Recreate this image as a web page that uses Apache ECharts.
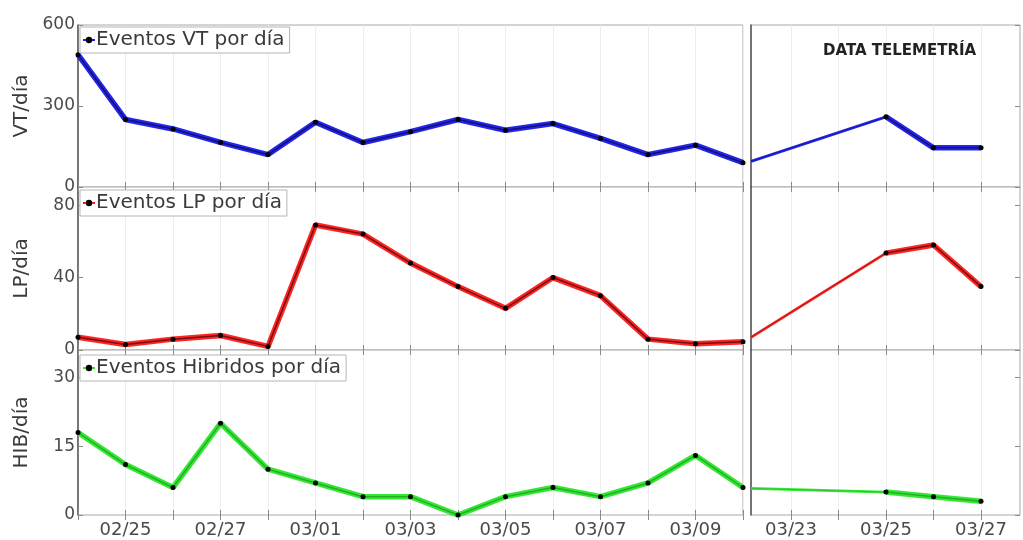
<!DOCTYPE html>
<html><head><meta charset="utf-8">
<script src="https://cdn.jsdelivr.net/npm/echarts@6/dist/echarts.min.js"></script>
<style>html,body{margin:0;padding:0;background:#fff}#c{width:1023px;height:540px}</style>
</head><body><div id="c"></div>
<script>
// ---- data ----
const leftDates = ['02/24','02/25','02/26','02/27','02/28','03/01','03/02','03/03','03/04','03/05','03/06','03/07','03/08','03/09','03/10'];
const rightDates = ['03/22','03/23','03/24','03/25','03/26','03/27'];
const leftLabelDates = ['02/25','02/27','03/01','03/03','03/05','03/07','03/09'];
const rightLabelDates = ['03/23','03/25','03/27'];

const vtLeft  = [490, 250, 215, 165, 120, 240, 165, 205, 250, 210, 235, 180, 120, 155, 90];
const lpLeft  = [7, 3, 6, 8, 2, 69, 64, 48, 35, 23, 40, 30, 6, 3.5, 4.5];
const hibLeft = [18, 11, 6, 20, 10, 7, 4, 4, 0, 4, 6, 4, 7, 13, 6];

const vtRight  = [null, null, null, 260, 145, 145];
const lpRight  = [null, null, null, 53.5, 58, 35];
const hibRight = [null, null, null, 5, 4, 3];

// value where the telemetry panel's connecting line starts (left edge)
const vtBreak = 95, lpBreak = 7, hibBreak = 5.8;

const vtTicks = [0, 300, 600], lpTicks = [0, 40, 80], hibTicks = [0, 15, 30];
const vtMax = 600, lpMax = 90, hibMax = 36;

// ---- layout ----
const FONT = 'DejaVu Sans';
const rowTop = [25, 187, 350], rowH = [162, 163, 165];
const leftX = 78, leftW = 665, rightX = 751, rightW = 269;
const rightMin = 0.16, rightMax = 5.82;

const panels = [
  {name: 'Eventos VT por día', yName: 'VT/día', L: vtLeft, R: vtRight, brk: vtBreak, ticks: vtTicks, max: vtMax, color: '#2424ea', core: 0.5},
  {name: 'Eventos LP por día', yName: 'LP/día', L: lpLeft, R: lpRight, brk: lpBreak, ticks: lpTicks, max: lpMax, color: '#ff2424', core: 0.55},
  {name: 'Eventos Hibridos por día', yName: 'HIB/día', L: hibLeft, R: hibRight, brk: hibBreak, ticks: hibTicks, max: hibMax, color: '#33e833', core: 0.25}
];

const grid = [], xAxis = [], yAxis = [], series = [], legend = [];
const tickStyle = {color: '#8a8a8a', width: 1};
const labelStyle = {color: '#4a4a4a', fontSize: 17, fontFamily: FONT};

panels.forEach((p, r) => {
  const last = r === 2;
  const gL = grid.length;
  grid.push({left: leftX, top: rowTop[r], width: leftW, height: rowH[r], show: true, borderColor: '#a8a8a8', borderWidth: 1, backgroundColor: '#fff'});
  const gR = grid.length;
  grid.push({left: rightX, top: rowTop[r], width: rightW, height: rowH[r], show: true, borderColor: '#a8a8a8', borderWidth: 1, backgroundColor: '#fff'});

  const xLb = xAxis.length;
  xAxis.push({type: 'value', gridIndex: gL, min: 0, max: leftDates.length - 1, interval: 1, position: 'bottom',
    axisLine: {show: false},
    axisTick: {show: true, inside: true, length: 5, lineStyle: tickStyle},
    axisLabel: {show: last, customValues: leftLabelDates.map(d => leftDates.indexOf(d)), formatter: v => leftDates[v], margin: 6, ...labelStyle, fontSize: 18},
    splitLine: {show: true, lineStyle: {color: '#ededed', width: 1}}});
  xAxis.push({type: 'value', gridIndex: gL, min: 0, max: leftDates.length - 1, interval: 1, position: 'top',
    axisLine: {show: false}, axisTick: {show: true, inside: true, length: 5, lineStyle: tickStyle},
    axisLabel: {show: false}, splitLine: {show: false}});
  const xRb = xAxis.length;
  const rTicks = rightDates.map((d, i) => i).filter(i => i >= rightMin && i <= rightMax);
  xAxis.push({type: 'value', gridIndex: gR, min: rightMin, max: rightMax, position: 'bottom',
    axisLine: {show: false},
    axisTick: {show: true, inside: true, length: 5, lineStyle: tickStyle, customValues: rTicks},
    axisLabel: {show: last, customValues: rightLabelDates.map(d => rightDates.indexOf(d)), formatter: v => rightDates[v], margin: 6, ...labelStyle, fontSize: 18},
    splitLine: {show: true, lineStyle: {color: '#ededed', width: 1}}});
  xAxis.push({type: 'value', gridIndex: gR, min: rightMin, max: rightMax, position: 'top',
    axisLine: {show: false}, axisTick: {show: true, inside: true, length: 5, lineStyle: tickStyle, customValues: rTicks},
    axisLabel: {show: false}, splitLine: {show: false}});

  const yL = yAxis.length;
  yAxis.push({type: 'value', gridIndex: gL, min: 0, max: p.max, position: 'left',
    name: p.yName, nameLocation: 'middle', nameGap: 46, nameTextStyle: {color: '#3a3a3a', fontSize: 20, fontFamily: FONT},
    axisLine: {show: false},
    axisTick: {show: true, inside: true, length: 5, lineStyle: tickStyle, customValues: p.ticks},
    axisLabel: {customValues: p.ticks, margin: 3, ...labelStyle},
    splitLine: {show: false}});
  yAxis.push({type: 'value', gridIndex: gL, min: 0, max: p.max, position: 'right',
    axisLine: {show: true, lineStyle: {color: '#555', width: 1.5}}, axisTick: {show: false}, axisLabel: {show: false}, splitLine: {show: false}});
  const yR = yAxis.length;
  yAxis.push({type: 'value', gridIndex: gR, min: 0, max: p.max, position: 'left',
    axisLine: {show: true, lineStyle: {color: '#555', width: 1.5}}, axisTick: {show: false}, axisLabel: {show: false}, splitLine: {show: false}});
  yAxis.push({type: 'value', gridIndex: gR, min: 0, max: p.max, position: 'right',
    axisLine: {show: false}, axisTick: {show: true, inside: true, length: 5, lineStyle: tickStyle, customValues: p.ticks},
    axisLabel: {show: false}, splitLine: {show: false}});

  const leftData = p.L.map((v, i) => [i, v]);
  const rightData = p.R.map((v, i) => [i, v]).filter(d => d[1] != null);
  const bridge = [[rightMin, p.brk], rightData[0]];

  series.push({type: 'line', name: p.name, xAxisIndex: xLb, yAxisIndex: yL, data: leftData,
    lineStyle: {color: p.color, width: 5.5}, itemStyle: {color: '#000'}, symbol: 'circle', symbolSize: 5, showSymbol: true, z: 3, animation: false});
  series.push({type: 'line', xAxisIndex: xLb, yAxisIndex: yL, data: leftData,
    lineStyle: {color: '#000', width: 1.5, opacity: p.core}, symbol: 'none', z: 4, silent: true, animation: false});
  series.push({type: 'line', xAxisIndex: xRb, yAxisIndex: yR, data: bridge,
    lineStyle: {color: p.color, width: 2.8}, symbol: 'none', z: 3, animation: false});
  series.push({type: 'line', xAxisIndex: xRb, yAxisIndex: yR, data: bridge,
    lineStyle: {color: '#000', width: 0.8, opacity: p.core * 0.7}, symbol: 'none', z: 4, animation: false});
  series.push({type: 'line', xAxisIndex: xRb, yAxisIndex: yR, data: rightData,
    lineStyle: {color: p.color, width: 5.5}, itemStyle: {color: '#000'}, symbol: 'circle', symbolSize: 5, z: 3, animation: false});
  series.push({type: 'line', xAxisIndex: xRb, yAxisIndex: yR, data: rightData,
    lineStyle: {color: '#000', width: 1.5, opacity: p.core}, symbol: 'none', z: 4, animation: false});

  legend.push({data: [p.name], left: 80, top: rowTop[r] + [2, 3, 5][r], orient: 'horizontal',
    backgroundColor: '#fff', borderColor: '#b5b5b5', borderWidth: 1, padding: [3, 5, 3, 2],
    itemWidth: 12, itemHeight: 8, selectedMode: false,
    textStyle: {color: '#3a3a3a', fontSize: 20, fontFamily: FONT, padding: [0, 0, 0, -4]}});
});

const chart = echarts.init(document.getElementById('c'), null, {renderer: 'canvas'});
chart.setOption({
  animation: false,
  backgroundColor: '#fff',
  title: {text: 'DATA TELEMETRÍA', left: 818, top: 39,
    textStyle: {fontFamily: FONT, fontWeight: 'bold', fontSize: 15, color: '#222'}},
  grid, xAxis, yAxis, series, legend
});
</script>
</body></html>
